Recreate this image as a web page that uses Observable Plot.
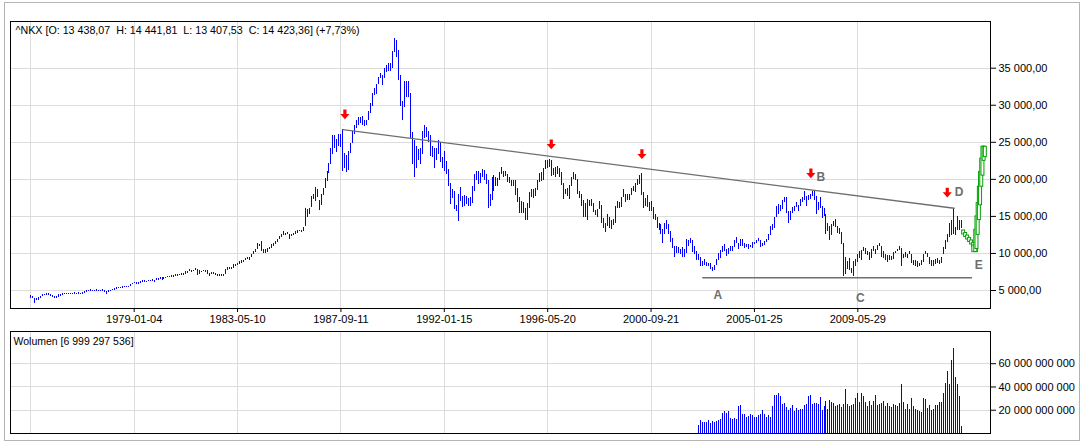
<!DOCTYPE html>
<html>
<head>
<meta charset="utf-8">
<script src="https://cdn.jsdelivr.net/npm/d3@7"></script>
<script src="https://cdn.jsdelivr.net/npm/@observablehq/plot@0.6"></script>
<style>
  html, body { margin: 0; padding: 0; background: #fff; }
  #wrap { position: relative; width: 1084px; height: 441px; overflow: hidden; background: #fff; }
  #border { position: absolute; left: 4px; top: 2px; width: 1076px; height: 439px; box-sizing: border-box; border: 1px solid #b4b4b4; }
  #main { position: absolute; left: 0; top: 0; }
  #vol { position: absolute; left: 0; top: 328px; }
</style>
</head>
<body>
<div id="wrap"><div id="border"></div><div id="main"></div><div id="vol"></div></div>
<script>
// ---------- DATA (monthly bars from 1974-09, values in thousands) ----------
const titleText = "^NKX [O: 13 438,07\u00a0 H: 14 441,81\u00a0 L: 13 407,53\u00a0 C: 14 423,36] (+7,73%)";
const volumeTitle = "Wolumen [6 999 297 536]";

const barHigh = [
  4.35, 4.2, 3.95, 3.9,                                              // 1974
  4.0, 4.25, 4.45, 4.5, 4.55, 4.55, 4.5, 4.35, 4.25, 4.2, 4.4, 4.45,   // 1975
  4.55, 4.6, 4.65, 4.65, 4.6, 4.65, 4.7, 4.65, 4.7, 4.65, 4.7, 4.85,   // 1976
  4.95, 5.0, 5.1, 5.05, 5.05, 5.1, 5.05, 5.05, 5.1, 5.05, 4.9, 4.95,   // 1977
  5.0, 5.1, 5.25, 5.35, 5.4, 5.45, 5.5, 5.5, 5.55, 5.6, 5.8, 6.0,      // 1978
  6.1, 6.1, 6.05, 6.2, 6.3, 6.3, 6.25, 6.4, 6.4, 6.45, 6.35, 6.6,      // 1979
  6.6, 6.7, 6.75, 6.7, 6.8, 6.9, 6.95, 7.0, 7.0, 7.15, 7.2, 7.2,       // 1980
  7.3, 7.3, 7.5, 7.6, 7.8, 7.7, 7.75, 8.0, 7.8, 7.7, 7.6, 7.7,         // 1981
  7.75, 7.7, 7.3, 7.4, 7.45, 7.25, 7.2, 7.15, 7.15, 7.2, 7.8, 8.05,    // 1982
  8.1, 8.1, 8.45, 8.55, 8.65, 8.85, 9.0, 9.1, 9.3, 9.45, 9.45, 9.9,    // 1983
  10.2, 10.6, 11.3, 11.2, 11.6, 10.6, 10.5, 10.7, 10.8, 11.2, 11.3, 11.6, // 1984
  11.9, 12.3, 12.6, 12.9, 12.75, 12.85, 12.6, 12.6, 12.75, 12.9, 13.1, 13.15, // 1985
  13.1, 13.5, 16.0, 15.9, 16.1, 17.7, 18.0, 18.9, 18.6, 17.2, 18.0, 18.8, // 1986
  20.1, 21.0, 22.2, 24.1, 25.9, 25.9, 25.4, 26.1, 26.1, 26.7, 23.5, 23.2, // 1987
  23.8, 24.9, 26.4, 27.3, 27.9, 28.3, 28.3, 28.5, 28.0, 28.0, 29.2, 30.2, // 1988
  31.6, 32.3, 32.8, 33.7, 34.3, 34.0, 34.9, 35.3, 35.7, 35.6, 37.3, 38.96, // 1989
  38.7, 37.4, 34.0, 30.5, 33.2, 33.2, 33.2, 31.6, 26.3, 25.2, 24.5, 24.0, // 1990
  24.1, 26.4, 27.2, 27.0, 26.4, 25.9, 24.4, 24.2, 24.2, 25.2, 25.0, 23.0, // 1991
  23.8, 22.4, 21.3, 19.5, 18.6, 18.3, 16.5, 17.9, 18.9, 17.7, 17.8, 17.7, // 1992
  17.4, 17.5, 19.0, 20.7, 21.0, 21.1, 20.8, 21.3, 21.2, 20.6, 19.8, 17.9, // 1993
  20.3, 20.5, 20.3, 20.1, 20.9, 21.55, 21.0, 21.0, 20.6, 20.2, 19.9, 19.9, // 1994
  19.8, 18.8, 17.5, 17.0, 16.9, 16.1, 16.8, 18.2, 18.6, 18.6, 18.7, 19.9, // 1995
  20.8, 20.9, 21.4, 22.6, 22.5, 22.7, 22.6, 21.4, 21.6, 21.7, 21.4, 20.9, // 1996
  19.4, 18.6, 18.8, 19.2, 20.3, 20.9, 20.6, 20.0, 18.4, 18.0, 17.1, 16.7, // 1997
  17.3, 17.2, 17.3, 16.8, 15.8, 15.9, 17.0, 16.5, 14.7, 14.0, 15.2, 14.9, // 1998
  14.5, 14.6, 16.4, 17.0, 16.9, 17.6, 18.6, 18.0, 17.9, 18.0, 18.7, 19.0, // 1999
  19.5, 20.0, 20.5, 20.8, 18.2, 17.4, 17.8, 16.9, 17.0, 16.2, 15.2, 14.9, // 2000
  14.0, 13.9, 13.2, 14.0, 14.5, 13.9, 12.9, 12.0, 11.0, 11.0, 10.8, 10.6, // 2001
  10.8, 10.6, 11.9, 11.8, 12.0, 11.8, 10.9, 10.2, 9.9, 9.4, 8.9, 9.2,     // 2002
  8.8, 8.7, 8.6, 8.1, 8.4, 9.2, 10.0, 10.4, 11.0, 11.2, 10.6, 10.7,       // 2003
  11.0, 11.0, 11.8, 12.2, 11.4, 11.9, 11.9, 11.3, 11.2, 11.2, 11.1, 11.5, // 2004
  11.5, 11.8, 12.0, 11.8, 11.3, 11.6, 11.9, 12.5, 13.6, 13.9, 14.9, 16.3, // 2005
  16.6, 16.5, 17.1, 17.6, 17.5, 15.6, 15.6, 16.2, 16.4, 16.9, 16.5, 17.3, // 2006
  17.6, 18.3, 17.7, 17.8, 17.9, 18.3, 18.3, 17.7, 16.9, 17.5, 16.4, 16.1, // 2007
  15.2, 14.1, 13.6, 13.9, 14.3, 14.6, 13.7, 13.4, 12.8, 11.4, 9.5, 8.9,   // 2008
  9.3, 8.0, 8.9, 9.2, 9.8, 10.2, 10.4, 10.8, 10.7, 10.3, 10.1, 10.6,      // 2009
  11.0, 10.5, 11.1, 11.4, 11.0, 10.2, 9.8, 9.7, 9.7, 9.6, 10.1, 10.3,     // 2010
  10.6, 10.9, 10.7, 9.9, 10.1, 9.9, 10.2, 9.9, 9.1, 9.0, 8.9, 8.7,        // 2011
  9.0, 9.9, 10.3, 10.0, 9.4, 9.1, 9.1, 9.2, 9.3, 9.1, 9.5, 10.8,         // 2012
  11.7, 12.6, 14.0, 14.4, 16.0, 13.5, 15.0, 14.4, 14.44                  // 2013
];
const barLow = [
  3.9, 3.9, 3.3, 3.65,                                                // 1974
  3.6, 3.95, 4.2, 4.3, 4.35, 4.35, 4.25, 4.05, 3.9, 3.9, 4.1, 4.25,     // 1975
  4.35, 4.4, 4.45, 4.45, 4.4, 4.45, 4.5, 4.45, 4.5, 4.45, 4.5, 4.6,     // 1976
  4.75, 4.8, 4.85, 4.85, 4.85, 4.9, 4.85, 4.85, 4.9, 4.75, 4.45, 4.7,   // 1977
  4.8, 4.95, 5.05, 5.2, 5.25, 5.3, 5.3, 5.35, 5.35, 5.45, 5.55, 5.75,   // 1978
  5.9, 5.85, 5.8, 5.95, 6.05, 6.1, 6.05, 6.15, 6.2, 6.15, 6.1, 6.3,     // 1979
  6.4, 6.45, 6.4, 6.45, 6.6, 6.7, 6.75, 6.8, 6.8, 6.9, 6.95, 7.0,       // 1980
  7.05, 7.05, 7.2, 7.35, 7.5, 7.45, 7.5, 7.7, 7.0, 7.2, 7.4, 7.5,       // 1981
  7.4, 7.2, 6.95, 7.1, 7.2, 7.0, 6.95, 6.9, 6.9, 6.85, 7.1, 7.75,       // 1982
  7.85, 7.9, 8.0, 8.3, 8.4, 8.55, 8.7, 8.8, 9.0, 9.2, 9.1, 9.4,         // 1983
  9.85, 10.1, 10.5, 10.9, 10.3, 10.0, 9.95, 10.1, 10.5, 10.7, 10.95, 11.2, // 1984
  11.5, 11.85, 12.15, 12.4, 12.4, 12.5, 11.9, 12.3, 12.4, 12.6, 12.7, 12.9, // 1985
  12.8, 13.0, 13.6, 14.8, 15.2, 16.2, 17.3, 17.0, 17.6, 15.8, 16.5, 17.8, // 1986
  18.8, 19.7, 20.8, 22.0, 23.3, 24.2, 23.6, 24.5, 24.3, 21.0, 21.5, 20.9, // 1987
  21.2, 23.5, 24.9, 26.1, 26.9, 27.2, 27.6, 27.3, 27.1, 27.2, 27.9, 28.9, // 1988
  29.8, 31.3, 31.5, 32.8, 33.6, 32.6, 33.6, 34.4, 34.6, 34.5, 35.0, 37.1, // 1989
  36.5, 33.3, 29.8, 28.0, 29.7, 31.0, 31.0, 25.5, 22.0, 20.2, 21.5, 22.6, // 1990
  22.0, 23.3, 25.5, 25.7, 25.0, 23.1, 23.0, 21.5, 22.5, 23.4, 22.3, 21.5, // 1991
  21.1, 20.6, 19.1, 16.6, 17.4, 15.9, 15.6, 14.3, 17.0, 16.2, 16.3, 16.6, // 1992
  16.3, 16.4, 16.7, 18.4, 19.8, 19.3, 19.5, 20.2, 19.8, 19.3, 16.1, 16.3, // 1993
  17.2, 18.4, 19.1, 19.1, 19.8, 20.6, 20.3, 20.4, 19.6, 19.5, 19.1, 19.1, // 1994
  17.8, 16.9, 15.4, 15.4, 15.4, 14.5, 14.5, 16.1, 17.6, 17.4, 17.7, 18.5, // 1995
  19.6, 19.7, 19.8, 21.3, 21.5, 21.6, 20.4, 20.5, 20.3, 20.6, 20.2, 19.2, // 1996
  17.3, 17.9, 17.7, 17.3, 19.0, 20.0, 19.9, 18.0, 17.4, 16.3, 14.8, 14.8, // 1997
  14.5, 16.3, 16.3, 15.5, 15.1, 14.9, 15.9, 14.1, 13.4, 12.8, 13.6, 13.4, // 1998
  13.2, 13.8, 14.1, 16.0, 16.1, 16.2, 17.5, 16.9, 17.2, 17.2, 17.8, 18.3, // 1999
  18.2, 19.2, 19.3, 17.8, 16.0, 16.3, 16.2, 15.6, 15.7, 14.6, 14.4, 13.4, // 2000
  13.1, 12.5, 11.4, 12.6, 13.2, 12.5, 11.5, 10.7, 9.4, 10.0, 10.0, 9.9,   // 2001
  9.4, 9.4, 10.0, 11.0, 11.3, 10.1, 9.9, 9.1, 9.0, 8.2, 8.3, 8.4,         // 2002
  8.2, 8.3, 7.8, 7.55, 7.7, 8.4, 9.0, 9.3, 10.1, 10.3, 9.6, 9.9,          // 2003
  10.3, 10.2, 10.8, 11.4, 10.5, 10.9, 11.0, 10.7, 10.8, 10.6, 10.8, 10.7, // 2004
  11.2, 11.3, 11.6, 10.8, 10.9, 11.1, 11.5, 11.7, 12.4, 13.1, 13.3, 14.9, // 2005
  15.3, 15.7, 15.9, 16.9, 15.4, 14.0, 14.4, 15.4, 15.6, 16.2, 15.6, 16.3, // 2006
  16.9, 17.2, 16.4, 17.1, 17.3, 17.7, 17.2, 15.3, 15.8, 16.1, 14.7, 15.0, // 2007
  12.6, 13.0, 11.7, 12.4, 13.6, 13.5, 12.7, 12.6, 11.2, 6.85, 7.2, 7.9,   // 2008
  7.7, 7.3, 6.9, 8.3, 8.8, 9.3, 9.0, 10.2, 9.9, 9.7, 9.1, 9.3,            // 2009
  10.2, 9.9, 10.4, 10.9, 9.4, 9.3, 9.1, 8.8, 9.0, 9.1, 9.2, 10.0,         // 2010
  10.2, 10.4, 8.2, 9.3, 9.4, 9.3, 9.8, 8.6, 8.4, 8.3, 8.1, 8.2,           // 2011
  8.4, 8.8, 9.8, 9.4, 8.5, 8.2, 8.3, 8.5, 8.7, 8.5, 8.6, 9.9,             // 2012
  10.6, 11.5, 12.2, 12.4, 12.6, 12.4, 13.1, 13.1, 13.41                  // 2013
];

// volume (billions), monthly, ending at the last bar
const volumeBn = [
  7.3, 10.9, 9.1, 9.1, 9.7, 10.9, 8.5, 10.0, 9.7, 10.3, 11.2, 11.8, 16.9, 18.7, 17.5, 18.7,
  12.7, 11.8, 13.3, 12.4, 23.5, 24.4, 16.3, 16.3, 13.9, 14.8, 16.3, 15.4, 13.9, 13.9, 15.7, 16.3,
  19.9, 16.3, 13.9, 15.7, 13.6, 22.9, 32.5, 32.5, 34.3, 31.6, 25.3, 26.2, 22.3, 19.9, 21.7, 23.8,
  19.3, 21.7, 19.9, 20.5, 20.5, 23.8, 25.3, 32.2, 32.5, 25.3, 25.9, 26.2, 25.3, 30.7, 19.9, 23.5,
  27.7, 20.8, 28.3, 26.8, 26.2, 22.9, 24.4, 25.3, 22.3, 25.3, 37.9, 25.3, 22.9, 24.1, 25.3, 29.8,
  34.3, 26.5, 34.3, 31.9, 26.8, 22.9, 27.7, 23.8, 27.7, 32.8, 24.1, 25.3, 26.2, 27.7, 23.5, 26.2,
  22.9, 22.3, 25.0, 23.8, 22.9, 26.2, 41.8, 26.5, 20.8, 25.3, 20.8, 29.8, 22.9, 20.8, 19.9, 18.7,
  18.1, 29.8, 28.9, 21.7, 23.8, 19.9, 20.8, 23.8, 23.8, 26.8, 26.8, 34.3, 43.3, 52.9, 42.4, 62.8,
  72.7, 47.8, 41.8, 31.9, 5.8
];

// date axis: bar index -> label
const tickIndex = [52, 104, 156, 208, 260, 312, 364, 416];
const tickLabels = ["1979-01-04", "1983-05-10", "1987-09-11", "1992-01-15", "1996-05-20", "2000-09-21", "2005-01-25", "2009-05-29"];
const gridIndex = [0, 52, 104, 156, 208, 260, 312, 364, 416];
const priceTicks = [5000, 10000, 15000, 20000, 25000, 30000, 35000];
const volumeTicks = [20e9, 40e9, 60e9];

// annotations (bar index, price)
const trendIdx = [157, 464.5];
const trendVal = [26700, 16100];
const supportIdx = [338, 473.2];
const supportVal = [6720, 6720];
const arrowIdx = [158.0, 261.8, 307.4, 392.4, 461.0];
const arrowVal = [28760, 24700, 23380, 20800, 18200];
const letterText = ["A", "B", "C", "D", "E"];
const letterIdx = [345.6, 397.4, 417.3, 466.9, 476.9];
const letterVal = [4330, 20270, 4020, 18250, 8390];

// projected (green) path, thousands
const fcX1 = [468.5, 469.5, 470.5, 471.5, 472.5, 473.5, 473.6, 474.6, 475.2, 475.8, 476.4, 477.0, 477.6, 478.2, 478.8, 479.4];
const fcX2 = [470.0, 471.0, 472.0, 473.0, 474.0, 475.0, 476.4, 476.1, 476.7, 477.3, 477.9, 478.5, 479.1, 479.7, 480.3, 480.9];
const fcHi = [13.1, 12.76, 12.42, 12.09, 11.75, 11.41, 11.07, 13.2, 15.0, 16.8, 19.0, 21.0, 22.8, 24.4, 24.4, 24.4];
const fcLo = [12.56, 12.22, 11.88, 11.55, 11.21, 10.87, 10.17, 10.2, 10.6, 12.5, 14.5, 16.5, 19.0, 20.5, 22.5, 23.0];

// ---------- BUILD ----------
const bars = barHigh.map((h, i) => ({i, hi: h * 1000, lo: barLow[i] * 1000}));
const volStart = bars.length - volumeBn.length;
const vols = volumeBn.map((v, k) => ({i: volStart + k, v: v * 1e9}));
const trend = trendIdx.map((x, k) => ({x, y: trendVal[k]}));
const support = supportIdx.map((x, k) => ({x, y: supportVal[k]}));
const arrows = arrowIdx.map((x, k) => ({x, y: arrowVal[k]}));
const letters = letterText.map((t, k) => ({t, x: letterIdx[k], y: letterVal[k]}));
const fc = fcX1.map((x1, k) => ({x1, x2: fcX2[k], y1: fcLo[k] * 1000, y2: fcHi[k] * 1000}));

const loc = d3.formatLocale({decimal: ",", thousands: " ", grouping: [3], currency: ["", ""]});
const fmtPrice = loc.format(",.2f");
const fmtVol = loc.format(",d");

const downArrow = {
  draw(context, size) {
    const k = Math.sqrt(size / Math.PI) / 5;
    context.moveTo(-1.6 * k, -5 * k);
    context.lineTo(1.6 * k, -5 * k);
    context.lineTo(1.6 * k, -0.4 * k);
    context.lineTo(4.6 * k, -0.4 * k);
    context.lineTo(0, 4.8 * k);
    context.lineTo(-4.6 * k, -0.4 * k);
    context.lineTo(-1.6 * k, -0.4 * k);
    context.closePath();
  }
};

const FONT = "'Liberation Sans', Arial, sans-serif";
const xDomain = [-10.21, 482.75];

const mainPlot = Plot.plot({
  width: 1084, height: 328,
  marginLeft: 10, marginRight: 94, marginTop: 21, marginBottom: 20,
  style: {fontFamily: FONT, fontSize: "11px", background: "transparent", color: "#000", overflow: "visible"},
  x: {domain: xDomain, ticks: tickIndex, tickFormat: d => tickLabels[tickIndex.indexOf(d)], tickSize: 4, tickPadding: 3, label: null},
  y: {domain: [2571, 41302], axis: "right", ticks: priceTicks, tickFormat: fmtPrice, tickSize: 5, tickPadding: 3, label: null},
  marks: [
    Plot.ruleX(gridIndex, {stroke: "#dcdcdc", strokeWidth: 1, shapeRendering: "crispEdges"}),
    Plot.ruleY(priceTicks, {stroke: "#dcdcdc", strokeWidth: 1, shapeRendering: "crispEdges"}),
    Plot.ruleX(bars, {x: "i", y1: "lo", y2: "hi", stroke: "#0000ff", strokeWidth: 1, shapeRendering: "crispEdges"}),
    Plot.line(trend, {x: "x", y: "y", stroke: "#6e6e6e", strokeWidth: 1.3}),
    Plot.line(support, {x: "x", y: "y", stroke: "#6e6e6e", strokeWidth: 1.3}),
    Plot.rect(fc, {x1: "x1", x2: "x2", y1: "y1", y2: "y2", fill: "#ffffff", stroke: "#00a000", strokeWidth: 1}),
    Plot.dot(arrows, {x: "x", y: "y", r: 5, symbol: downArrow, fill: "#ff0000", stroke: "none"}),
    Plot.text(letters, {x: "x", y: "y", text: "t", fill: "#6e6e6e", fontWeight: "bold", fontSize: 12, fontFamily: FONT, textAnchor: "middle", lineAnchor: "middle"}),
    Plot.text([titleText], {frameAnchor: "top-left", text: d => d, textAnchor: "start", lineAnchor: "top", dx: 5, dy: 5, fill: "#000", fontSize: 10.7}),
    Plot.frame({stroke: "#000", strokeWidth: 1})
  ]
});
document.getElementById("main").appendChild(mainPlot);

const volPlot = Plot.plot({
  width: 1084, height: 113,
  marginLeft: 10, marginRight: 94, marginTop: 3, marginBottom: 8,
  style: {fontFamily: FONT, fontSize: "11px", background: "transparent", color: "#000", overflow: "visible"},
  x: {domain: xDomain, axis: null},
  y: {domain: [0, 87.7e9], axis: "right", ticks: volumeTicks, tickFormat: fmtVol, tickSize: 5, tickPadding: 3, label: null},
  marks: [
    Plot.ruleX(gridIndex, {stroke: "#dcdcdc", strokeWidth: 1, shapeRendering: "crispEdges"}),
    Plot.ruleY(volumeTicks, {stroke: "#dcdcdc", strokeWidth: 1, shapeRendering: "crispEdges"}),
    Plot.ruleX(vols, {x: "i", y1: 0, y2: "v", stroke: "#0000ff", strokeWidth: 1, shapeRendering: "crispEdges"}),
    Plot.text([volumeTitle], {frameAnchor: "top-left", text: d => d, textAnchor: "start", lineAnchor: "top", dx: 3, dy: 6, fill: "#000", fontSize: 10.5}),
    Plot.frame({stroke: "#000", strokeWidth: 1})
  ]
});
document.getElementById("vol").appendChild(volPlot);
</script>
</body>
</html>
